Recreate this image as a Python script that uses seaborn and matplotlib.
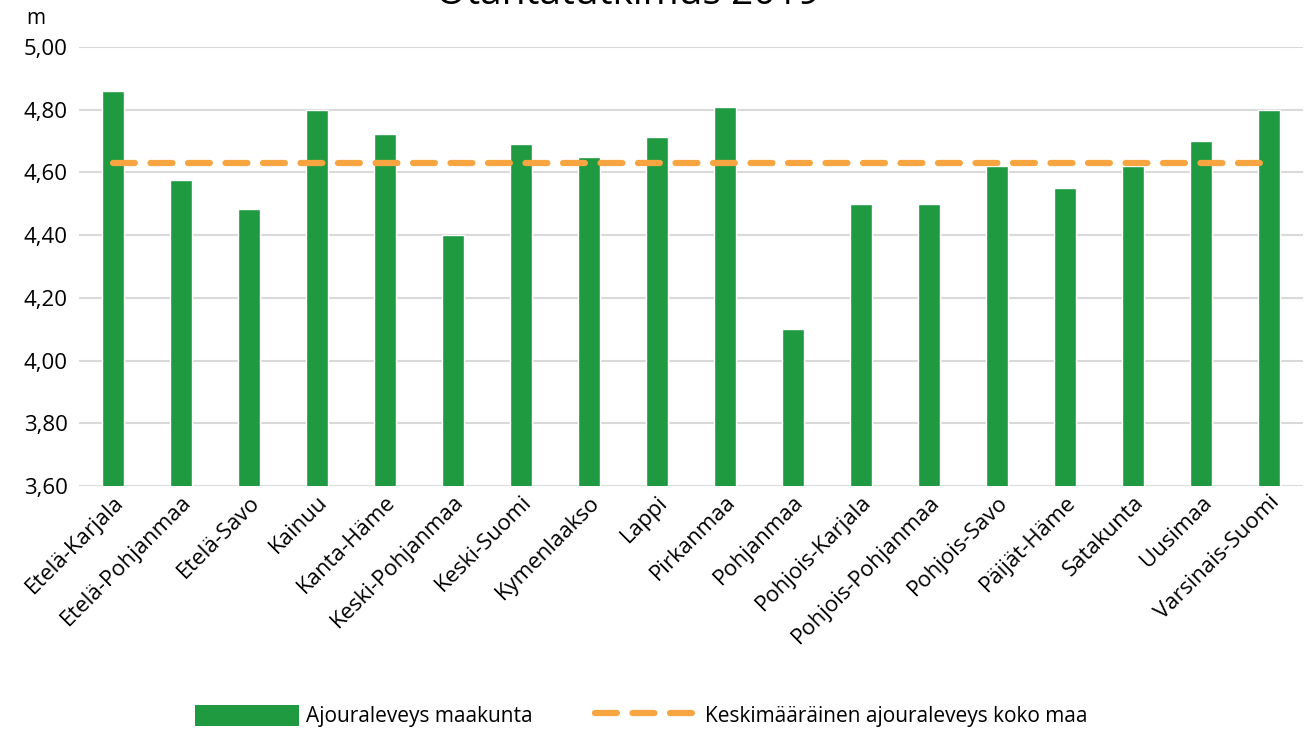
import pandas as pd
import seaborn as sns
import matplotlib.pyplot as plt
from matplotlib.ticker import FuncFormatter
from matplotlib.lines import Line2D
from matplotlib.patches import Patch

# Data
regions = ['Etelä-Karjala', 'Etelä-Pohjanmaa', 'Etelä-Savo', 'Kainuu', 'Kanta-Häme',
           'Keski-Pohjanmaa', 'Keski-Suomi', 'Kymenlaakso', 'Lappi', 'Pirkanmaa',
           'Pohjanmaa', 'Pohjois-Karjala', 'Pohjois-Pohjanmaa', 'Pohjois-Savo',
           'Päijät-Häme', 'Satakunta', 'Uusimaa', 'Varsinais-Suomi']
lane_width = [4.86, 4.575, 4.483, 4.80, 4.723, 4.40, 4.69, 4.65, 4.713, 4.81,
              4.10, 4.50, 4.50, 4.62, 4.55, 4.62, 4.70, 4.80]
national_avg = 4.63

df = pd.DataFrame({'maakunta': regions, 'leveys': lane_width})
df['keskiarvo'] = national_avg

sns.set_style('white')
plt.rcParams['font.family'] = ['Open Sans', 'DejaVu Sans']
plt.rcParams['text.color'] = 'black'
plt.rcParams['xtick.color'] = 'black'
plt.rcParams['ytick.color'] = 'black'

green = '#1f9a40'
orange = '#f7a540'

fig = plt.figure(figsize=(13.09, 7.29), dpi=100)
ax = fig.add_axes([0.0604, 0.3333, 0.935, 0.6022])

sns.barplot(data=df, x='maakunta', y='leveys', color=green, width=0.32,
            saturation=1, ax=ax, zorder=2)
ax.plot(df['maakunta'], df['keskiarvo'], color=orange, lw=4.5,
        dashes=(3.5, 2.5), dash_capstyle='round', zorder=3)

ax.set_ylim(3.6, 5.0)
ax.set_xlim(-0.5, len(regions) - 0.5)
ax.set_yticks([3.6, 3.8, 4.0, 4.2, 4.4, 4.6, 4.8, 5.0])
ax.yaxis.set_major_formatter(FuncFormatter(lambda v, p: f'{v:.2f}'.replace('.', ',')))
ax.grid(axis='y', color='#d9d9d9', lw=1.5, zorder=0)
ax.set_axisbelow(True)
for s in ax.spines.values():
    s.set_visible(False)
ax.tick_params(axis='both', length=0, labelsize=16, pad=8, colors='black')
ax.tick_params(axis='x', pad=4)
plt.setp(ax.get_xticklabels(), rotation=45, ha='right', rotation_mode='anchor')
ax.set_xlabel('')
ax.set_ylabel('')

fig.text(0.027, 0.975, 'm', fontsize=15, ha='center', va='center')
fig.text(0.48, 1.008, 'Otantatutkimus 2019', fontsize=28, ha='center', va='center')

handles = [Patch(facecolor=green, edgecolor='none'),
           Line2D([0], [0], color=orange, lw=4.5, dashes=(3.5, 2.5), dash_capstyle='round')]
fig.legend(handles, ['Ajouraleveys maakunta', 'Keskimääräinen ajouraleveys koko maa'],
           loc='center', bbox_to_anchor=(0.49, 0.018), ncol=2, frameon=False,
           fontsize=15, handlelength=5, handleheight=1.2, columnspacing=3,
           handletextpad=0.3)

fig.savefig('out.png', dpi=100)
